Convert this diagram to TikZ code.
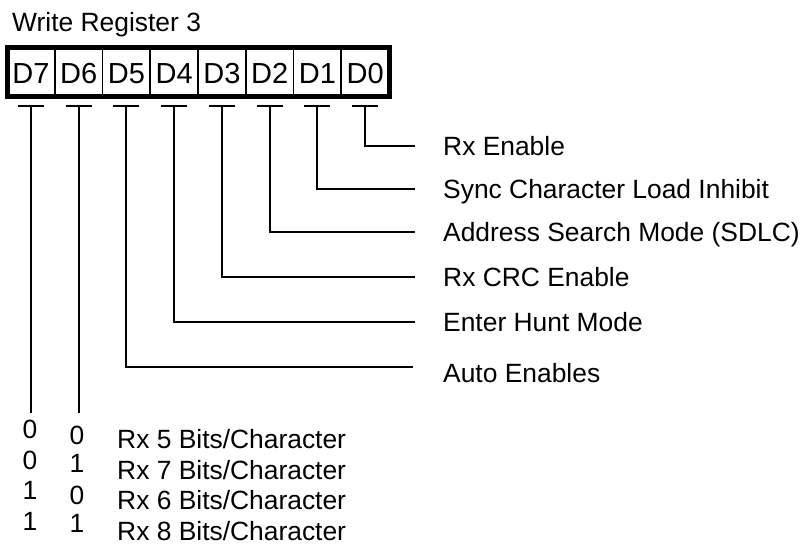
\documentclass[tikz,border=0pt]{standalone}
\usepackage{fontspec}
\setmainfont{Liberation Sans}
\begin{document}
\begin{tikzpicture}[x=1pt,y=-1pt,
  lbl/.style={anchor=base west,inner sep=0pt,font=\fontsize{26.4}{30}\selectfont},
  dig/.style={anchor=base,inner sep=0pt,font=\fontsize{26.4}{30}\selectfont},
  cell/.style={anchor=base,inner sep=0pt,font=\fontsize{29}{33}\selectfont},
  wire/.style={line width=2pt,line cap=butt},
  tbar/.style={line width=2.2pt}]
\useasboundingbox (0,0) rectangle (806,546);
% title
\node[lbl] (title) at (12,31) {Write Register 3};
% register box
\draw[line width=5pt] (7,47.5) rectangle (389,96.5);
\foreach \k in {1,...,7} {
  \draw[line width=1.8pt] ({7+47.75*\k},49) -- ({7+47.75*\k},95);
}
\foreach \b [count=\i from 0] in {7,6,5,4,3,2,1,0} {
  \node[cell] (d\b) at ({7+47.75*(\i+0.5)},83) {D\b};
  \coordinate (t\b) at ({7+47.75*(\i+0.5)},106);
  \draw[tbar] ({7+47.75*(\i+0.5)-13},106) -- ({7+47.75*(\i+0.5)+13},106);
}
% labels on the right
\node[lbl] (l0) at (443,155.3) {Rx Enable};
\node[lbl] (l1) at (443,198.3) {Sync Character Load Inhibit};
\node[lbl] (l2) at (443,241.3) {Address Search Mode (SDLC)};
\node[lbl] (l3) at (443,286.3) {Rx CRC Enable};
\node[lbl] (l4) at (443,331.3) {Enter Hunt Mode};
\node[lbl] (l5) at (443,382.3) {Auto Enables};
\coordinate (e0) at (415,146);
\coordinate (e1) at (415,189);
\coordinate (e2) at (415,232);
\coordinate (e3) at (415,277);
\coordinate (e4) at (415,322);
\coordinate (e5) at (413,367);
\foreach \b in {0,...,5} {
  \draw[wire] (t\b) |- (e\b);
}
% D7 D6 lines down
\coordinate (e7) at (t7 |- 0,413);
\coordinate (e6) at (t6 |- 0,413);
\draw[wire] (t7) -- (e7);
\draw[wire] (t6) -- (e6);
% table
\node[dig] (a1) at (30,438.3) {0};
\node[dig] (a2) at (30,469.3) {0};
\node[dig] (a3) at (30,499.3) {1};
\node[dig] (a4) at (30,530.3) {1};
\node[dig] (b1) at (77,444.3) {0};
\node[dig] (b2) at (77,472.3) {1};
\node[dig] (b3) at (77,504.3) {0};
\node[dig] (b4) at (77,532.3) {1};
\node[lbl] (r1) at (117,448.3) {Rx 5 Bits/Character};
\node[lbl] (r2) at (117,479.3) {Rx 7 Bits/Character};
\node[lbl] (r3) at (117,509.3) {Rx 6 Bits/Character};
\node[lbl] (r4) at (117,540.3) {Rx 8 Bits/Character};
\end{tikzpicture}
\end{document}
